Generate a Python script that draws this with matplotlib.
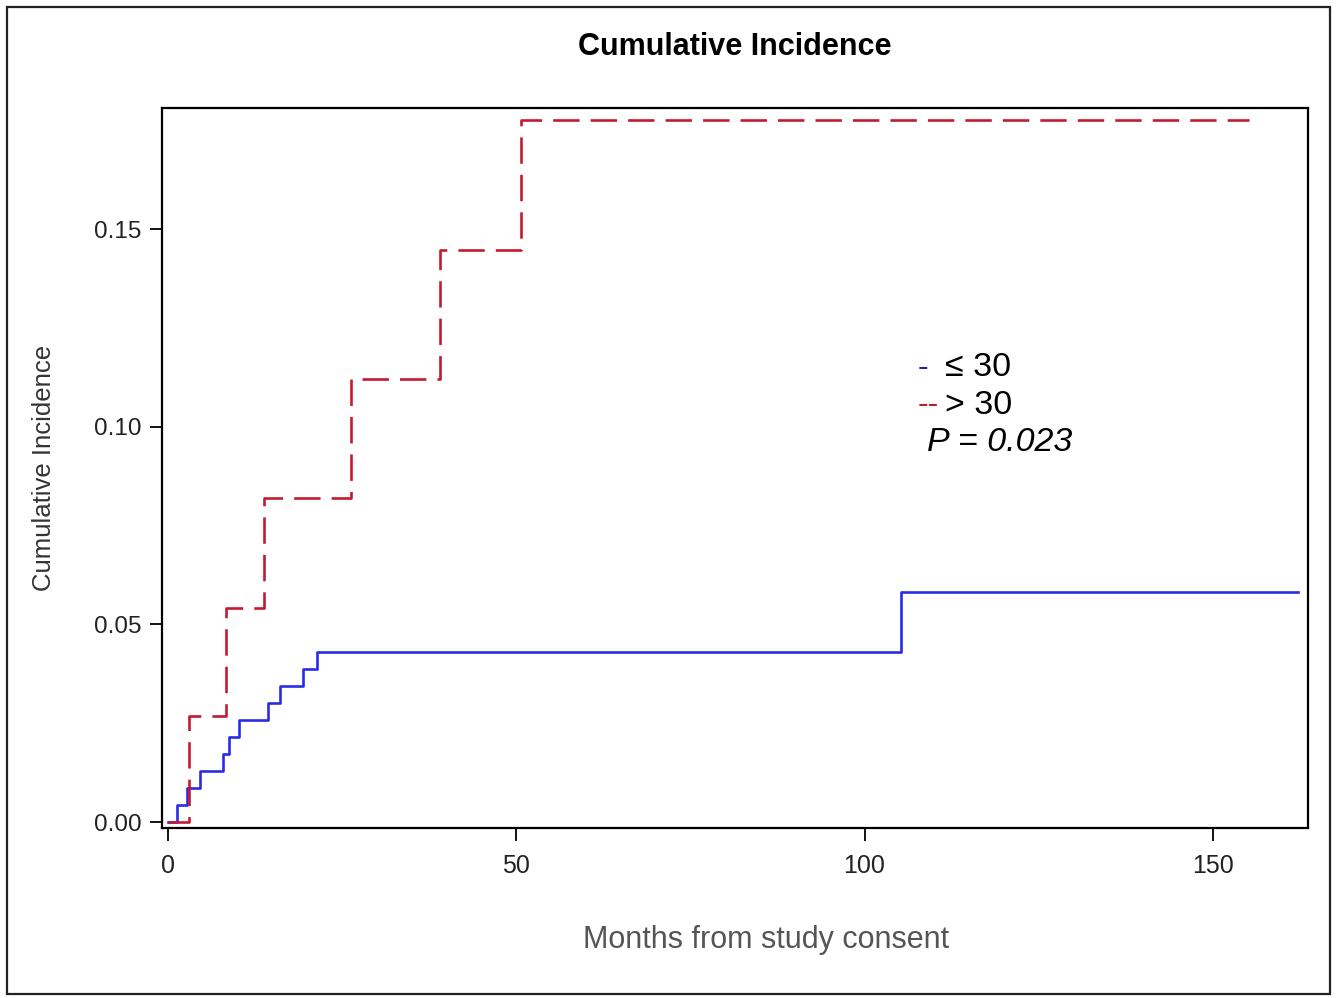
import matplotlib
matplotlib.use("Agg")
import matplotlib.pyplot as plt
from matplotlib.patches import Rectangle

# step times (months) and cumulative incidence
low_t = [0, 1.2, 2.7, 4.5, 7.8, 8.7, 10.1, 14.3, 16.0, 19.4, 21.4, 105.2, 162.2]
low_ci = [0, 0.0043, 0.0086, 0.0129, 0.0172, 0.0215, 0.0258, 0.0301, 0.0344,
          0.0387, 0.0430, 0.0582, 0.0582]
high_t = [0, 3.0, 8.3, 13.7, 26.2, 39.0, 50.6, 155.2]
high_ci = [0, 0.0268, 0.0541, 0.0820, 0.1122, 0.1446, 0.1775, 0.1775]

x_ticks = [0, 50, 100, 150]
y_ticks = [0.00, 0.05, 0.10, 0.15]
y_tick_labels = ["0.00", "0.05", "0.10", "0.15"]

plt.rcParams['font.family'] = ['Liberation Sans', 'DejaVu Sans']

fig = plt.figure(figsize=(13.39, 9.98), dpi=100)
ax = fig.add_axes([0.121, 0.1703, 0.8559, 0.7214])

blue = "#2a2ae8"
red = "#c41a30"

ax.step(low_t, low_ci, where="post", color=blue, lw=1.9)
ax.step(high_t, high_ci, where="post", color=red, lw=1.9, dashes=(10, 4.2))

ax.set_xlim(-0.9, 163.7)
ax.set_ylim(-0.0015, 0.1806)
ax.set_xticks(x_ticks)
ax.set_xticklabels([str(t) for t in x_ticks], fontsize=18, color="#222222")
ax.set_yticks(y_ticks)
ax.set_yticklabels(y_tick_labels, fontsize=17.5, color="#222222")
ax.tick_params(direction="out", length=9, width=1.3, pad=6)
ax.tick_params(axis="x", pad=10)
for sp in ax.spines.values():
    sp.set_linewidth(1.6)

ax.set_ylabel("Cumulative Incidence", fontsize=18.5, color="#333333")
ax.yaxis.set_label_coords(-0.103, 0.5)
ax.yaxis.label.set_va("center")
ax.set_xlabel("Months from study consent", fontsize=22, color="#555555")
ax.xaxis.set_label_coords(0.527, -0.156)
ax.xaxis.label.set_va("center")

fig.text(0.549, 0.953, "Cumulative Incidence", fontsize=22, fontweight="bold",
         ha="center", va="center")

# legend drawn as text, like the original
ax.text(0.659, 0.639, "-", color="#1f2a78", fontsize=23, va="center", transform=ax.transAxes)
ax.text(0.683, 0.639, "≤ 30", fontsize=24.5, va="center", transform=ax.transAxes)
ax.text(0.659, 0.5875, "--", color=red, fontsize=23, va="center", transform=ax.transAxes)
ax.text(0.683, 0.5875, "> 30", fontsize=24.5, va="center", transform=ax.transAxes)
ax.text(0.6675, 0.535, "P = 0.023", fontsize=24.5, style="italic", va="center",
        transform=ax.transAxes)

# outer frame round the whole picture
fig.patches.append(Rectangle((7 / 1339, 4 / 998), 1323 / 1339, 987 / 998,
                             transform=fig.transFigure, fill=False,
                             edgecolor="#222222", lw=1.6))

fig.savefig("out.png", dpi=100)
